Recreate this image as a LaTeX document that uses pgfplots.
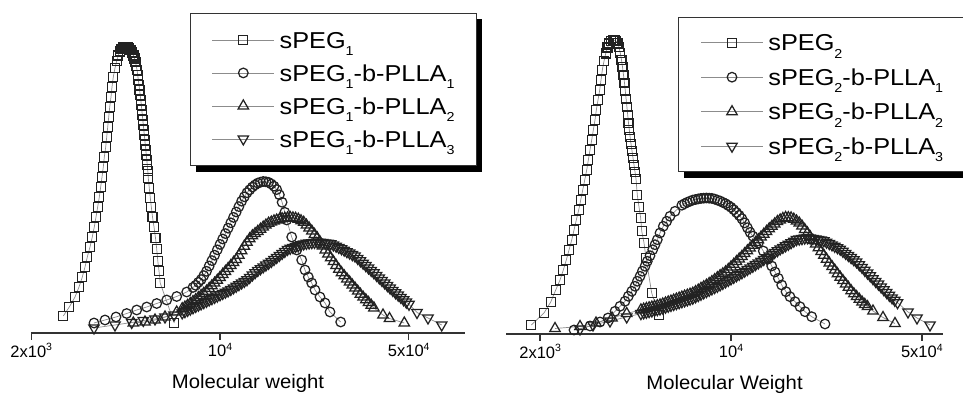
\documentclass[border=0pt]{standalone}
\usepackage{pgfplots}
\pgfplotsset{compat=1.18}
\usepackage{fontspec}
\setmainfont{Liberation Sans}
\usetikzlibrary{backgrounds}
\definecolor{mk}{HTML}{222222}
\definecolor{ln}{HTML}{8C8C8C}
\definecolor{axcol}{HTML}{333333}
\newcommand\sub[1]{\raisebox{-7.5pt}{\fontsize{13}{13}\selectfont #1}}
\newcommand\lgt[1]{\scalebox{1.1}[1]{#1}}
\newcommand\sups[1]{\raisebox{6.2pt}{\fontsize{10.5}{10.5}\selectfont #1}}
\pgfplotsset{
  sq/.style={color=ln, line width=0.7pt, mark=square, mark size=4.5pt, mark options={draw=mk,fill=white,line width=1.25pt,solid}},
  ci/.style={color=ln, line width=0.7pt, mark=o, mark size=4.8pt, mark options={draw=mk,fill=white,line width=1.25pt,solid}},
  tu/.style={color=ln, line width=0.7pt, mark=triangle, mark size=6pt, mark options={draw=mk,fill=white,line width=1.25pt,solid}},
  td/.style={color=ln, line width=0.7pt, mark=triangle, mark size=6pt, mark options={draw=mk,fill=white,line width=1.25pt,solid,rotate=180}},
  gpc/.style={
    scale only axis, clip=false,
    ymin=0, axis y line=none, ytick=\empty,
    axis x line=bottom, x axis line style={-, line width=1.6pt, color=axcol},
    xtick={3.30103,4,4.69897},
    xticklabels={2x10\sups{3},10\sups{4},5x10\sups{4}},
    tick align=outside, major tick length=7pt, minor tick num=0,
    tick style={line width=1.4pt, color=axcol},
    xticklabel style={font=\fontsize{16.5}{17}\selectfont, text=black},
    x label style={at={(axis description cs:0.5,0)}, anchor=base, yshift=-56pt, font=\fontsize{19.5}{20}\selectfont},
    legend cell align=left,
    legend image code/.code={\draw[mark repeat=2,mark phase=2,#1] plot coordinates {(0pt,0pt) (31pt,0pt) (62pt,0pt)};},
    legend style={draw=axcol, line width=0.9pt, fill=white, anchor=north west,
      column sep=5pt, row sep=0pt,
      font=\fontsize{23}{23}\selectfont},
  },
}
\begin{document}
\begin{tikzpicture}
\path[use as bounding box] (0,0) rectangle (963pt,395pt);
% ---------------- left panel ----------------
\begin{axis}[gpc, at={(31pt,62pt)}, anchor=south west,
  width=434pt, height=333pt, xmin=3.30, xmax=4.9074, ymax=333,
  xlabel={\scalebox{1.04}[1]{Molecular weight}},
  legend style={name=legL, at={(axis description cs:0.3664,0.961)}, inner xsep=21.5pt, inner ysep=10pt,
    nodes={inner xsep=0pt, inner ysep=0pt, text height=24.7pt, text depth=8.3pt}},
  legend entries={\lgt{sPEG\sub{1}}, \lgt{sPEG\sub{1}-b-PLLA\sub{1}}, \lgt{sPEG\sub{1}-b-PLLA\sub{2}}, \lgt{sPEG\sub{1}-b-PLLA\sub{3}}}]
\addplot[sq] table {
3.4196 17
3.4419 26
3.4630 36
3.4778 46
3.4900 56
3.5000 66
3.5085 76
3.5185 86
3.5270 96
3.5344 106
3.5407 116
3.5470 126
3.5530 136
3.5581 146
3.5630 156
3.5678 166
3.5715 176
3.5767 186
3.5804 196
3.5841 206
3.5878 216
3.5915 226
3.5963 236
3.6000 246
3.6048 256
3.6111 265
3.6174 272
3.6233 277.5
3.6296 281.5
3.6352 284
3.6407 285.5
3.6463 286
3.6519 286
3.6574 285.5
3.6630 284.5
3.6685 283
3.6741 280.5
3.6796 277.5
3.6833 274.5
3.6870 271
3.6900 267
3.6926 263
3.6952 258
3.6974 253
3.7000 248
3.7022 243
3.7044 238
3.7067 233
3.7085 228
3.7104 223
3.7122 218
3.7141 213
3.7159 208
3.7178 203
3.7196 198
3.7215 193
3.7233 188
3.7252 183
3.7270 178
3.7289 173
3.7307 168
3.7326 162
3.7344 155
3.7381 145
3.7419 135
3.7456 126
3.7500 116
3.7556 106
3.7611 95
3.7656 84
3.7696 72
3.7741 62
3.7785 50
3.8307 10
};
\addplot[ci] table {
3.5333 10
3.5741 13
3.6148 16
3.6544 19.5
3.6915 23
3.7285 26
3.7656 29.5
3.8026 33
3.8396 36.5
3.8767 41
3.90 45.6
3.91 47.7
3.92 50.6
3.93 53.4
3.94 57.4
3.95 61.7
3.96 67
3.97 72.4
3.98 77.8
3.99 83.2
4.00 88.6
4.01 94
4.02 99.4
4.03 104.8
4.04 110.2
4.05 115.6
4.06 121
4.07 126.4
4.08 131.8
4.09 136.2
4.10 140.3
4.11 143.2
4.12 146
4.13 148.1
4.14 149.9
4.15 150.8
4.16 151.5
4.17 151.2
4.18 150.6
4.19 149
4.20 146.8
4.21 143.4
4.22 138.2
4.23 130.7
4.24 120.7
4.2470 113
4.2656 96
4.2841 83
4.3026 73
4.3148 63
4.3270 56
4.3396 50
4.3519 43
4.3704 36
4.3889 30
4.4074 21
4.4470 11
};
\addplot[tu] table {
3.6789 10
3.7222 11
3.7593 13
3.7963 16
3.8396 21
3.86 24.3
3.87 25.9
3.88 27.6
3.89 29.5
3.90 31.4
3.91 33.3
3.92 35.4
3.93 37.5
3.94 39.7
3.95 41.8
3.96 44.5
3.97 47.2
3.98 49.9
3.99 52.7
4.00 55.6
4.01 58.6
4.02 61.6
4.03 64.5
4.04 67.5
4.05 70.5
4.06 73.5
4.07 77.7
4.08 82.3
4.09 86.8
4.10 90.7
4.11 94.3
4.12 97.2
4.13 99.4
4.14 101.6
4.15 103.8
4.16 105.9
4.17 107.9
4.18 109.8
4.19 110.9
4.20 112.1
4.21 112.9
4.22 113.6
4.23 114.3
4.24 114.8
4.25 115.1
4.26 115.5
4.27 115.1
4.28 114.7
4.29 113.8
4.30 112.2
4.31 110.7
4.32 107.9
4.33 105
4.34 101.9
4.35 98.6
4.36 95.2
4.37 91.2
4.38 87.1
4.39 83.1
4.40 79.1
4.41 75.3
4.42 71.4
4.43 67.6
4.44 63.7
4.45 60.3
4.46 57.2
4.47 54.1
4.48 51.1
4.49 48
4.50 45
4.51 41.9
4.52 38.8
4.53 35.9
4.54 33.2
4.55 30.5
4.56 27.8
4.57 25.1
4.6037 18
4.6278 14.5
4.6826 10
};
\addplot[td] table {
3.5333 5
3.6111 8
3.6730 10.5
3.7159 12.5
3.7593 14
3.7963 16
3.8296 18
3.86 20.1
3.87 21.3
3.88 22.6
3.89 23.9
3.90 25.2
3.91 26.5
3.92 27.8
3.93 29.1
3.94 30.4
3.95 31.7
3.96 33
3.97 34.3
3.98 35.6
3.99 36.9
4.00 38.2
4.01 39.5
4.02 40.8
4.03 42.1
4.04 43.5
4.05 45.1
4.06 46.7
4.07 48.3
4.08 50
4.09 51.6
4.10 53.3
4.11 55.6
4.12 58
4.13 60.3
4.14 62.5
4.15 64.3
4.16 66.1
4.17 67.9
4.18 69.7
4.19 71.5
4.20 73.5
4.21 75.5
4.22 77.6
4.23 79.6
4.24 81.6
4.25 83.6
4.26 84.7
4.27 85.6
4.28 86.5
4.29 87.3
4.30 88.2
4.31 89.1
4.32 89.7
4.33 90
4.34 90.3
4.35 90.6
4.36 90.9
4.37 90.8
4.38 90.4
4.39 90.1
4.40 89.7
4.41 89.2
4.42 88
4.43 86.8
4.44 85.5
4.45 84.2
4.46 82.8
4.47 81.3
4.48 79.9
4.49 78.4
4.50 77
4.51 74.6
4.52 72.2
4.53 69.8
4.54 67.4
4.55 65
4.56 62.6
4.57 60.2
4.58 57.6
4.59 55.1
4.60 52.5
4.61 50
4.62 47.4
4.63 44.9
4.64 42.6
4.65 40.2
4.66 37.9
4.67 35.6
4.68 33.2
4.69 30.9
4.70 28.7
4.7296 20.5
4.7704 15
4.8211 8
};
\end{axis}
% ---------------- right panel ----------------
\begin{axis}[gpc, at={(506pt,61pt)}, anchor=south west,
  width=437pt, height=334pt, xmin=3.1758, xmax=4.7766, ymax=334,
  xlabel={\scalebox{1.04}[1]{Molecular Weight}},
  legend style={name=legR, at={(axis description cs:0.3929,0.9491)}, inner xsep=22.5pt, inner ysep=8pt,
    nodes={inner xsep=0pt, inner ysep=0pt, text height=25.45pt, text depth=9.05pt}},
  legend entries={\lgt{sPEG\sub{2}}, \lgt{sPEG\sub{2}-b-PLLA\sub{1}}, \lgt{sPEG\sub{2}-b-PLLA\sub{2}}, \lgt{sPEG\sub{2}-b-PLLA\sub{3}}}]
\addplot[sq] table {
3.2685 9
3.3150 21
3.3396 32
3.3579 44
3.3736 54
3.3857 64
3.3967 74
3.4066 84
3.4165 94
3.4249 104
3.4333 114
3.4421 124
3.4495 134
3.4568 144
3.4641 154
3.4714 164
3.4773 174
3.4835 184
3.4897 194
3.4956 204
3.5018 214
3.5066 224
3.5128 234
3.5190 244
3.5238 254
3.5286 264
3.5348 273
3.5410 280.5
3.5476 286.5
3.5542 290.5
3.5604 293
3.5667 293.8
3.5729 293.8
3.5788 293
3.5842 291
3.5897 287
3.5945 281
3.5989 274
3.6026 267
3.6062 259
3.6099 251
3.6128 243
3.6158 235
3.6187 227
3.6216 219
3.6245 211
3.6275 204
3.6304 197
3.6337 190
3.6374 183
3.6410 176
3.6447 169
3.6484 162
3.6520 155
3.6568 139
3.6630 127
3.6692 116
3.6729 103
3.6813 91
3.6886 76
3.7095 41
3.7363 19
};
\addplot[ci] table {
3.4249 4
3.4835 8
3.5201 12
3.5495 16
3.5751 22.7
3.5934 27.7
3.6117 32.7
3.6238 37.7
3.6363 42.7
3.6484 47.7
3.6568 52.7
3.6667 57.7
3.6751 62.7
3.6850 67.7
3.6934 72.7
3.7033 78.3
3.7132 84.3
3.7216 89.3
3.7300 94.3
3.7399 101
3.7520 107.7
3.7645 112.7
3.7766 117.7
3.7949 122.7
3.82 128.8
3.83 130.3
3.84 131.7
3.85 132.8
3.86 133.9
3.87 134.5
3.88 135.1
3.89 135.6
3.90 135.8
3.91 136
3.92 135.8
3.93 135.6
3.94 134.9
3.95 133.9
3.96 133
3.97 131.6
3.98 130.3
3.99 128.5
4.00 126.7
4.01 124.3
4.02 121.5
4.03 118.6
4.04 115.3
4.05 111.1
4.06 106.3
4.07 101.6
4.08 97.8
4.1000 91
4.1183 83
4.1366 75
4.1491 68
4.1612 62
4.1733 55.7
4.1857 49
4.2015 42.3
4.2161 37.3
4.2344 32.3
4.2527 27.3
4.2711 22.3
4.2956 17.3
4.3443 10
};
\addplot[tu] table {
3.3553 5.5
3.4469 7.5
3.5055 11
3.5641 16
3.6179 20.5
3.67 24.1
3.68 24.8
3.69 25.5
3.70 26.2
3.71 26.9
3.72 27.6
3.73 28.3
3.74 29
3.75 30
3.76 31
3.77 32
3.78 32.9
3.79 33.9
3.80 34.9
3.81 35.9
3.82 36.9
3.83 37.9
3.84 38.8
3.85 39.8
3.86 40.8
3.87 42.3
3.88 43.9
3.89 45.6
3.90 47.2
3.91 48.8
3.92 50.5
3.93 52.4
3.94 54.3
3.95 56.3
3.96 58.3
3.97 60.2
3.98 62.1
3.99 64.5
4.00 67.1
4.01 69.7
4.02 72.4
4.03 75
4.04 77.6
4.05 80.4
4.06 83.2
4.07 85.9
4.08 88.7
4.09 91.5
4.10 94.3
4.11 97
4.12 99.8
4.13 102.5
4.14 105.2
4.15 107.7
4.16 110.1
4.17 112.5
4.18 114.1
4.19 115.5
4.20 116.5
4.21 116.3
4.22 116.1
4.23 114.8
4.24 113
4.25 111
4.26 108
4.27 104.5
4.28 101.1
4.29 97.3
4.30 93.6
4.31 90
4.32 86.2
4.33 82.5
4.34 78.7
4.35 74.8
4.36 71
4.37 67.4
4.38 63.9
4.39 60.3
4.40 56.8
4.41 53.4
4.42 50
4.43 46.7
4.44 43.3
4.45 40.2
4.46 37.4
4.47 34.7
4.48 32
4.49 29.6
4.50 27.4
4.5201 23
4.5568 16.5
4.6007 10.5
};
\addplot[td] table {
3.4469 5
3.4945 9
3.5568 13
3.6179 17
3.67 20.4
3.68 21.1
3.69 21.7
3.70 22.4
3.71 23
3.72 23.7
3.73 24.4
3.74 25
3.75 25.9
3.76 26.8
3.77 27.7
3.78 28.6
3.79 29.5
3.80 30.4
3.81 31.3
3.82 32.2
3.83 33.1
3.84 34
3.85 34.9
3.86 35.8
3.87 37.1
3.88 38.4
3.89 39.7
3.90 41.1
3.91 42.4
3.92 43.7
3.93 45.1
3.94 46.4
3.95 47.7
3.96 49.1
3.97 50.6
3.98 52.1
3.99 53.6
4.00 55.1
4.01 56.6
4.02 58.2
4.03 59.7
4.04 61.2
4.05 62.8
4.06 64.5
4.07 66.1
4.08 67.7
4.09 69.4
4.10 71
4.11 72.7
4.12 74.5
4.13 76.2
4.14 78
4.15 79.8
4.16 81.6
4.17 83.3
4.18 85.1
4.19 86.6
4.20 88.2
4.21 89.7
4.22 91.3
4.23 92.8
4.24 94.4
4.25 94.9
4.26 95.4
4.27 95.9
4.28 96.4
4.29 96.1
4.30 95.5
4.31 95
4.32 94.4
4.33 93.9
4.34 93.2
4.35 91.8
4.36 90.4
4.37 89.1
4.38 87.7
4.39 86.3
4.40 84.8
4.41 82.7
4.42 80.6
4.43 78.5
4.44 76.4
4.45 74.2
4.46 72.1
4.47 69.3
4.48 66.6
4.49 63.7
4.50 60.9
4.51 58.2
4.52 55.3
4.53 52.6
4.54 49.9
4.55 47
4.56 44.2
4.57 41.5
4.58 38.7
4.59 36.1
4.60 33.7
4.61 31.3
4.6484 22
4.6813 16
4.7289 9
};
\end{axis}
\begin{pgfonlayer}{background}
\fill[black] ([xshift=6pt,yshift=-6pt]legL.south west) rectangle ([xshift=6pt,yshift=-6pt]legL.north east);
\fill[black] ([xshift=6pt,yshift=-6pt]legR.south west) rectangle ([xshift=6pt,yshift=-6pt]legR.north east);
\end{pgfonlayer}
\end{tikzpicture}
\end{document}
